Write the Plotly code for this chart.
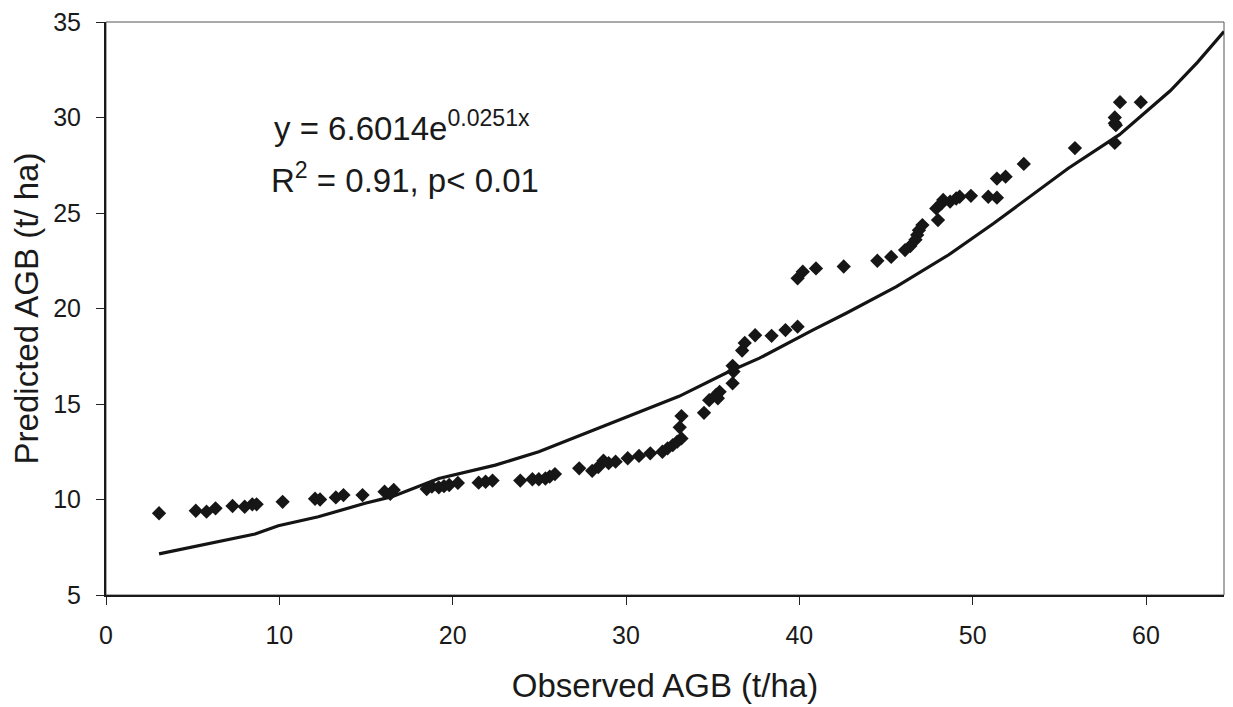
import plotly.graph_objects as go

# Observed vs predicted AGB (t/ha)
observed = [3.06, 5.18, 5.8, 6.32, 7.3, 8.0, 8.44, 8.69, 10.19, 12.06, 12.35, 13.26, 13.7, 14.8,
            16.07, 16.4, 16.6, 18.5, 18.8, 19.2, 19.5, 19.8, 20.3, 21.5, 21.9, 22.3, 23.9, 24.6,
            24.97, 25.35, 25.6, 25.9, 27.3, 28.05, 28.4, 28.7, 29.0, 29.4, 30.1, 30.75, 31.4,
            32.1, 32.4, 32.7, 32.96, 33.2, 33.1, 33.2, 34.5, 34.8, 35.2, 35.4, 35.3, 36.15,
            36.15, 36.2, 36.7, 36.85, 37.45, 38.4, 39.2, 39.9, 39.9, 40.2, 40.96, 42.56, 44.5,
            45.3, 46.1, 46.4, 46.7, 46.8, 46.9, 47.1, 48.0, 47.9, 48.2, 48.3, 48.7, 49.05, 49.25,
            49.9, 50.9, 51.4, 51.4, 51.9, 52.95, 55.9, 58.2, 58.2, 58.2, 58.26, 58.5, 59.7]
predicted = [9.28, 9.41, 9.36, 9.54, 9.66, 9.62, 9.75, 9.75, 9.88, 10.04, 10.0, 10.11, 10.23, 10.23,
             10.41, 10.3, 10.5, 10.55, 10.67, 10.64, 10.7, 10.76, 10.87, 10.88, 10.93, 10.99, 10.99, 11.06,
             11.06, 11.1, 11.2, 11.33, 11.63, 11.5, 11.7, 12.03, 11.9, 11.98, 12.16, 12.28, 12.42,
             12.5, 12.68, 12.85, 13.03, 13.2, 13.78, 14.37, 14.54, 15.2, 15.47, 15.64, 15.3, 16.08,
             17.0, 16.7, 17.8, 18.2, 18.6, 18.57, 18.87, 19.05, 21.58, 21.93, 22.1, 22.2, 22.5,
             22.7, 23.06, 23.27, 23.6, 23.85, 24.1, 24.37, 24.63, 25.24, 25.5, 25.68, 25.6, 25.76, 25.85,
             25.9, 25.85, 25.8, 26.8, 26.9, 27.57, 28.4, 28.67, 30.0, 29.7, 29.6, 30.8, 30.8]

# Exponential trend line as drawn in the reference
trend_x = [3.06, 8.6, 9.94, 12.25, 14.95, 16.5, 19.2, 22.46, 24.97, 27.86, 29.98, 33.06, 35.95,
           37.7, 40.77, 42.7, 45.6, 48.6, 51.2, 55.5, 58.47, 61.4, 62.98, 64.5]
trend_y = [7.15, 8.19, 8.63, 9.1, 9.8, 10.15, 11.1, 11.8, 12.5, 13.55, 14.3, 15.4, 16.7,
           17.4, 18.87, 19.75, 21.14, 22.8, 24.45, 27.33, 29.1, 31.4, 32.9, 34.5]

x_ticks = [0, 10, 20, 30, 40, 50, 60]
y_ticks = [5, 10, 15, 20, 25, 30, 35]

FONT = "Liberation Sans, Arial, Helvetica, sans-serif"

fig = go.Figure()
fig.add_trace(go.Scatter(x=trend_x, y=trend_y, mode="lines",
                         line=dict(color="#141414", width=3.2), hoverinfo="skip"))
fig.add_trace(go.Scatter(x=observed, y=predicted, mode="markers",
                         marker=dict(symbol="diamond", size=11, color="#161616",
                                     line=dict(width=0))))

fig.update_layout(
    width=1225, height=699,
    margin=dict(l=98, r=9, t=14, b=112),
    plot_bgcolor="white", paper_bgcolor="white",
    showlegend=False,
    font=dict(family=FONT, color="#1a1a1a"),
    xaxis=dict(range=[0, 64.5], tickvals=x_ticks, ticks="outside", ticklen=8,
               tickcolor="#222", tickwidth=1, showline=True, linecolor="#1a1a1a",
               linewidth=2, showgrid=False, zeroline=False, automargin=False,
               tickfont=dict(size=25), ticklabelstandoff=9, ticklabeloverflow="allow",
               title=dict(text="Observed AGB (t/ha)", font=dict(size=33), standoff=26)),
    yaxis=dict(range=[5, 35], tickvals=y_ticks, ticks="outside", ticklen=8,
               tickcolor="#222", tickwidth=1, showline=True, linecolor="#1a1a1a",
               linewidth=2, showgrid=False, zeroline=False, automargin=False,
               tickfont=dict(size=25), ticklabelstandoff=10, ticklabeloverflow="allow",
               title=dict(text="Predicted AGB (t/ ha)", font=dict(size=33), standoff=11)),
    shapes=[dict(type="rect", xref="paper", yref="paper", x0=0, y0=0, x1=1, y1=1,
                 line=dict(color="#555", width=1), layer="below")],
    annotations=[
        dict(xref="x", yref="y", x=9.6, y=29.55, xanchor="left", yanchor="middle",
             text="y = 6.6014e<sup>0.0251x</sup>", showarrow=False,
             font=dict(size=33, family=FONT, color="#1a1a1a")),
        dict(xref="x", yref="y", x=9.4, y=26.85, xanchor="left", yanchor="middle",
             text="R<sup>2</sup> = 0.91, p< 0.01", showarrow=False,
             font=dict(size=33, family=FONT, color="#1a1a1a")),
    ],
)

fig.write_html("out.html")
